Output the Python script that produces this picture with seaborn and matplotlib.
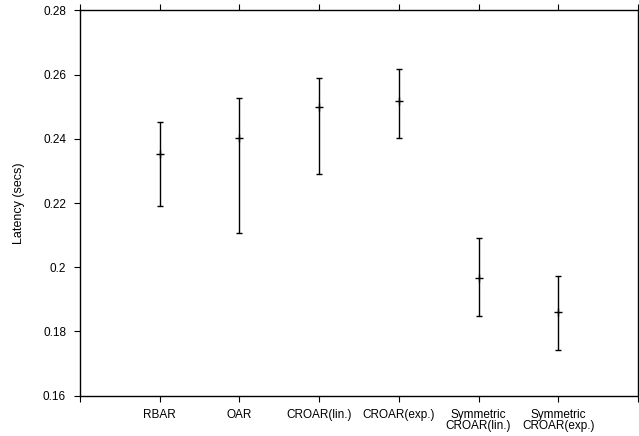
import matplotlib
matplotlib.use("Agg")
import matplotlib.pyplot as plt
import seaborn as sns
import pandas as pd
import numpy as np

categories = ["RBAR", "OAR", "CROAR(lin.)", "CROAR(exp.)",
              "Symmetric\nCROAR(lin.)", "Symmetric\nCROAR(exp.)"]
positions = [1, 2, 3, 4, 5, 6]
latency_mean = [0.2353, 0.2402, 0.2499, 0.2518, 0.1967, 0.1859]
latency_low = [0.2192, 0.2107, 0.2291, 0.2403, 0.1849, 0.1743]
latency_high = [0.2452, 0.2528, 0.2590, 0.2619, 0.2090, 0.1973]
y_ticks = [0.16, 0.18, 0.2, 0.22, 0.24, 0.26, 0.28]
y_tick_labels = ["0.16", "0.18", "0.2", "0.22", "0.24", "0.26", "0.28"]

df = pd.DataFrame({"pos": positions, "mean": latency_mean,
                   "low": latency_low, "high": latency_high})

sns.set_style("ticks", {"axes.edgecolor": "black", "text.color": "black",
                        "xtick.color": "black", "ytick.color": "black",
                        "axes.labelcolor": "black"})
plt.rcParams["font.family"] = ["Liberation Sans", "DejaVu Sans"]

fig = plt.figure(figsize=(6.39, 4.36), dpi=100)
ax = fig.add_axes([80/639, 40.5/436, 558/639, 385/436])

yerr = np.vstack([df["mean"] - df["low"], df["high"] - df["mean"]])
ax.errorbar(df["pos"], df["mean"], yerr=yerr, fmt="none", ecolor="black",
            elinewidth=1.0, capsize=2.0, capthick=1.0)
sns.scatterplot(data=df, x="pos", y="mean", marker="+", color="black",
                s=30, linewidth=1.0, ax=ax, zorder=3)

ax.set_xlim(0, 7)
ax.set_ylim(0.16, 0.28)
ax.set_xticks(list(range(0, 8)))
ax.set_xticklabels([""] + categories + [""], fontsize=8.5, linespacing=0.85)
ax.set_yticks(y_ticks)
ax.set_yticklabels(y_tick_labels, fontsize=8.5)
ax.set_xlabel("")
ax.set_ylabel("Latency (secs)", fontsize=9, labelpad=13)
ax.tick_params(axis="both", direction="out", length=4, width=0.8,
               top=True, right=True, pad=6, colors="black")
for sp in ax.spines.values():
    sp.set_linewidth(1.0)
    sp.set_color("black")
    sp.set_visible(True)

fig.savefig("out.png", dpi=100)
